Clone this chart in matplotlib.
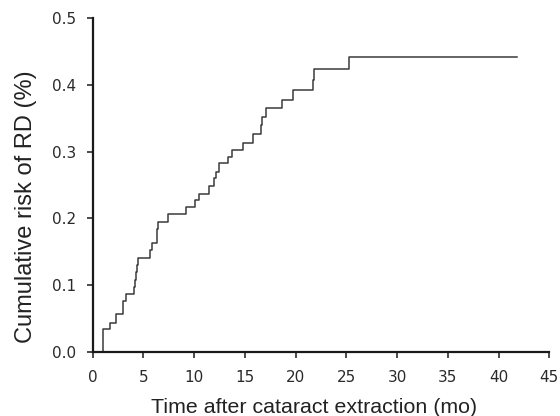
import numpy as np
import matplotlib
matplotlib.use("Agg")
import matplotlib.pyplot as plt

# event times (months) and cumulative risk after each step
times = [0.0, 1.06, 1.73, 2.25, 2.94, 3.33, 4.07, 4.17, 4.27, 4.40, 4.49,
         5.65, 5.89, 6.33, 6.38, 6.44, 7.47, 9.15, 10.08, 10.45, 11.49,
         11.98, 12.15, 12.48, 13.36, 13.76, 14.84, 15.83, 16.59, 16.71,
         17.05, 18.61, 19.71, 21.74, 21.84, 25.29, 41.8]
risk = [0.0, 0.034, 0.0435, 0.056, 0.076, 0.0865, 0.0975, 0.1075, 0.120,
        0.130, 0.141, 0.152, 0.1625, 0.173, 0.184, 0.1945, 0.207, 0.217,
        0.2275, 0.237, 0.2485, 0.260, 0.270, 0.2825, 0.2925, 0.3025, 0.3134,
        0.3265, 0.340, 0.3515, 0.365, 0.378, 0.392, 0.4075, 0.424, 0.4425,
        0.4425]

xticks = [0, 5, 10, 15, 20, 25, 30, 35, 40, 45]
yticks = [0.0, 0.1, 0.2, 0.3, 0.4, 0.5]

fig = plt.figure(figsize=(5.6, 4.16), dpi=100)
ax = fig.add_axes([0.1655, 0.1546, 0.8155, 0.8014])

ax.step(times, risk, where='post', color='#3a3a3a', lw=1.1)

ax.set_xlim(0, 45)
ax.set_ylim(0, 0.5)
ax.set_xticks(xticks)
ax.set_yticks(yticks)
ax.set_yticklabels(['%.1f' % v for v in yticks])

for s in ['top', 'right']:
    ax.spines[s].set_visible(False)
for s in ['left', 'bottom']:
    ax.spines[s].set_linewidth(1.6)
    ax.spines[s].set_color('#1a1a1a')
ax.tick_params(direction='out', length=4.3, width=1.1, color='#1a1a1a',
               labelsize=11, pad=7.5, labelcolor='#2a2a2a')
ax.tick_params(axis='x', pad=9)
for lab in ax.get_xticklabels() + ax.get_yticklabels():
    lab.set_family('DejaVu Sans')
    lab.set_fontsize(11)

ax.set_xlabel('Time after cataract extraction (mo)', fontsize=15.4,
              family='Liberation Sans', color='#222222')
ax.set_ylabel('Cumulative risk of RD (%)', fontsize=17,
              family='Liberation Sans', color='#222222')
ax.xaxis.set_label_coords(0.485, -0.138)
ax.yaxis.set_label_coords(-0.122, 0.4355)

fig.savefig('out.png', dpi=100)
